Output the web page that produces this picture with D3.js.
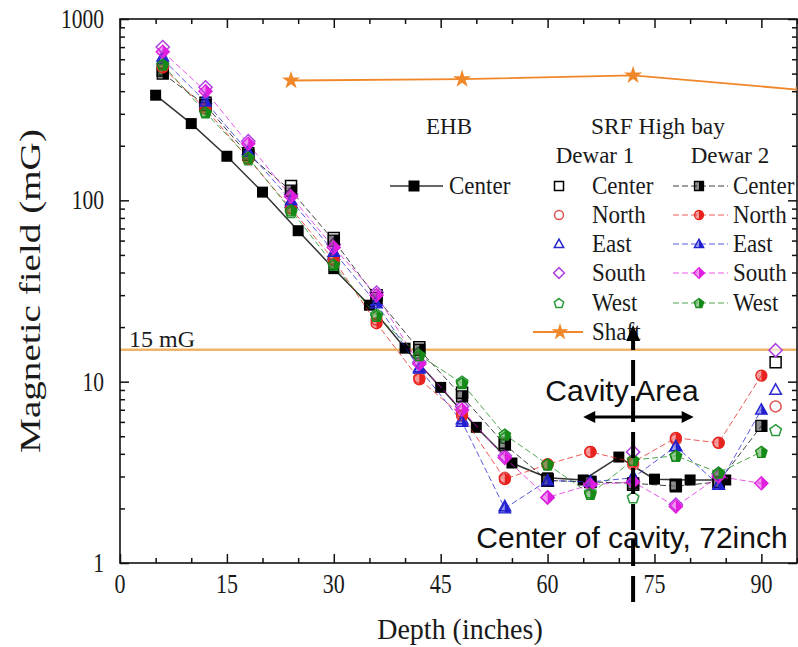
<!DOCTYPE html>
<html>
<head>
<meta charset="utf-8">
<script src="https://cdn.jsdelivr.net/npm/d3@7"></script>
<style>
  html, body { margin: 0; padding: 0; background: #fff; }
  svg { display: block; }
</style>
</head>
<body>
<div id="chart"></div>
<script>
// EHB center probe
const ehbDepth = [5, 10, 15, 20, 25, 30, 35, 40, 45, 50, 55, 60, 65, 70, 75, 80, 85];
const ehbCenter = [380, 265, 175, 111, 68, 42, 26.4, 15.3, 9.3, 5.6, 3.56, 2.95, 2.87, 3.84, 2.9, 2.87, 2.87];

// SRF High bay, Dewar 1 (hollow markers, no line)
const dewar1Depth = [6, 12, 18, 24, 30, 36, 42, 48, 54, 60, 66, 72, 78, 84, 92];
const d1Center = [520, 345, 182, 120, 62, 30, 15.5, 8.7, 4.6, 2.9, 2.8, 2.7, 2.7, 2.8, 12.8];
const d1North  = [560, 330, 175, 92, 48, 22, 10.5, 6.8, 2.95, 3.5, 4.1, 3.5, 4.8, 4.6, 7.3];
const d1East   = [620, 365, 190, 97, 50, 28, 12, 6.2, 2.05, 2.8, 2.8, 3.0, 4.4, 2.7, 9.0];
const d1South  = [700, 420, 212, 108, 57, 31, 12.8, 7.3, 3.9, 2.3, 2.75, 4.1, 2.1, 3.1, 14.9];
const d1West   = [530, 310, 168, 86, 45, 23.5, 14.5, 10, 4.9, 3.5, 2.45, 2.3, 3.9, 3.1, 5.4];

// SRF High bay, Dewar 2 (half filled markers, dashed line)
const dewar2Depth = [6, 12, 18, 24, 30, 36, 42, 48, 54, 60, 66, 72, 78, 84, 90];
const d2Center = [500, 335, 178, 113, 60, 29, 15, 8.3, 4.5, 2.85, 2.8, 2.75, 2.65, 2.8, 5.7];
const d2North  = [540, 320, 170, 90, 47, 21, 10.3, 6.5, 2.9, 3.5, 4.1, 3.6, 4.9, 4.6, 10.8];
const d2East   = [600, 350, 185, 100, 52, 27, 11.8, 6.0, 2.0, 2.85, 2.8, 2.95, 4.4, 2.7, 7.0];
const d2South  = [660, 400, 205, 105, 55, 30, 12.5, 7.0, 3.8, 2.3, 2.7, 2.8, 2.05, 3.0, 2.75];
const d2West   = [560, 305, 172, 88, 44, 23, 14, 9.8, 5.1, 3.5, 2.4, 3.7, 3.9, 3.15, 4.1];

// Shaft
const shaftDepth = [24, 48, 72, 96];
const shaftField = [458, 466, 489, 405];

const limitField = 15;
const xTicks = [0, 15, 30, 45, 60, 75, 90];
const yTicks = [1, 10, 100, 1000];

// cavity annotation (data units)
const cavityCenter = 72;
const cavityFrom = 65, cavityTo = 80.5;

const width = 798, height = 647;
const margin = { top: 19, right: 1, bottom: 84, left: 120 };
const serif = '"Liberation Serif", "Times New Roman", Times, serif';
const sans = '"Liberation Sans", Arial, Helvetica, sans-serif';

const svg = d3.select('#chart').append('svg')
  .attr('width', width)
  .attr('height', height)
  .attr('font-family', serif);

const x = d3.scaleLinear().domain([0, 95]).range([margin.left, width - margin.right]);
const y = d3.scaleLog().domain([1, 1000]).range([height - margin.bottom, margin.top]);

const colors = {
  Center: '#000000',
  North: '#e8231f',
  East: '#2020d0',
  South: '#e01ee0',
  West: '#168a16',
  Shaft: '#f0882a'
};
const hollowColors = {
  Center: '#000000',
  North: '#e05050',
  East: '#2a2ad0',
  South: '#b040e0',
  West: '#2a9a3a'
};

// serif text, optionally a bit taller than wide like the source image
function sText(parent, px, py, str, size, anchor, sy) {
  return parent.append('text')
    .attr('transform', `translate(${px},${py}) scale(1,${sy || 1})`)
    .attr('text-anchor', anchor || 'start')
    .attr('font-size', size)
    .attr('fill', '#1a1a1a')
    .text(str);
}

// marker shapes, r = half size
function shapePath(kind, r) {
  if (kind === 'square') return `M${-r},${-r}H${r}V${r}H${-r}Z`;
  if (kind === 'circle') return `M${r},0A${r},${r} 0 1,1 ${-r},0A${r},${r} 0 1,1 ${r},0Z`;
  if (kind === 'triangle') return `M0,${-r * 1.1}L${r * 1.05},${r * 0.8}L${-r * 1.05},${r * 0.8}Z`;
  if (kind === 'diamond') return `M0,${-r * 1.2}L${r * 1.2},0L0,${r * 1.2}L${-r * 1.2},0Z`;
  if (kind === 'pentagon') {
    const pts = d3.range(5).map(i => {
      const a = -Math.PI / 2 + i * 2 * Math.PI / 5;
      return [Math.cos(a) * r * 1.1, Math.sin(a) * r * 1.1 + 0.5];
    });
    return 'M' + pts.map(p => p.join(',')).join('L') + 'Z';
  }
  if (kind === 'star') return d3.symbol(d3.symbolStar, r * r * 1.6)();
  return '';
}

const shapes = { Center: 'square', North: 'circle', East: 'triangle', South: 'diamond', West: 'pentagon' };

const defs = svg.append('defs');
defs.append('clipPath')
  .attr('id', 'rightHalf')
  .attr('clipPathUnits', 'objectBoundingBox')
  .append('rect').attr('x', 0.5).attr('y', 0).attr('width', 0.5).attr('height', 1);

defs.append('clipPath')
  .attr('id', 'plotArea')
  .append('rect')
  .attr('x', x(0)).attr('y', y(1000))
  .attr('width', x(95) - x(0)).attr('height', y(1) - y(1000));

// 15 mG limit line
svg.append('line')
  .attr('x1', x(0)).attr('x2', x(95))
  .attr('y1', y(limitField)).attr('y2', y(limitField))
  .attr('stroke', '#f0b468')
  .attr('stroke-width', 2.5);

sText(svg, x(0) + 9, y(limitField) - 3, '15 mG', 24);

// axes
function minorLogTicks() {
  const t = [];
  [1, 10, 100].forEach(d => { for (let k = 2; k <= 9; k++) t.push(d * k); });
  return t;
}
const xMinor = d3.range(0, 96, 5).filter(v => v % 15 !== 0);

svg.append('g')
  .attr('transform', `translate(0,${y(1)})`)
  .call(d3.axisBottom(x).tickValues(xTicks).tickSizeInner(-9).tickSizeOuter(0).tickFormat(''));
svg.append('g')
  .attr('transform', `translate(0,${y(1)})`)
  .call(d3.axisBottom(x).tickValues(xMinor).tickSizeInner(-5).tickSizeOuter(0).tickFormat(''));
svg.append('g')
  .attr('transform', `translate(0,${y(1000)})`)
  .call(d3.axisTop(x).tickValues(xTicks).tickSizeInner(-9).tickSizeOuter(0).tickFormat(''));
svg.append('g')
  .attr('transform', `translate(0,${y(1000)})`)
  .call(d3.axisTop(x).tickValues(xMinor).tickSizeInner(-5).tickSizeOuter(0).tickFormat(''));

svg.append('g')
  .attr('transform', `translate(${x(0)},0)`)
  .call(d3.axisLeft(y).tickValues(yTicks).tickSizeInner(-9).tickSizeOuter(0).tickFormat(''));
svg.append('g')
  .attr('transform', `translate(${x(0)},0)`)
  .call(d3.axisLeft(y).tickValues(minorLogTicks()).tickSizeInner(-5).tickSizeOuter(0).tickFormat(''));
svg.append('g')
  .attr('transform', `translate(${x(95)},0)`)
  .call(d3.axisRight(y).tickValues(yTicks).tickSizeInner(-9).tickSizeOuter(0).tickFormat(''));
svg.append('g')
  .attr('transform', `translate(${x(95)},0)`)
  .call(d3.axisRight(y).tickValues(minorLogTicks()).tickSizeInner(-5).tickSizeOuter(0).tickFormat(''));

svg.selectAll('.domain').remove();
svg.selectAll('.tick text').remove();
svg.selectAll('.tick line').attr('stroke', '#111').attr('stroke-width', 1.5);

// tick labels
const labels = svg.append('g');
xTicks.forEach(v => sText(labels, x(v), y(1) + 30, d3.format('d')(v), 22, 'middle', 1.25));
yTicks.forEach(v => sText(labels, x(0) - 16, y(v) + 9, d3.format('d')(v), 21.5, 'end', 1.25));

svg.append('rect')
  .attr('x', x(0)).attr('y', y(1000))
  .attr('width', x(95) - x(0)).attr('height', y(1) - y(1000))
  .attr('fill', 'none')
  .attr('stroke', '#111')
  .attr('stroke-width', 1.6);

sText(svg, 460, 639, 'Depth (inches)', 28, 'middle', 1.05);

svg.append('text')
  .attr('transform', `translate(40,${(y(1) + y(1000)) / 2}) rotate(-90) scale(1.35,1)`)
  .attr('text-anchor', 'middle')
  .attr('font-size', 29)
  .attr('fill', '#1a1a1a')
  .text('Magnetic field (mG)');

// series
const data = svg.append('g').attr('clip-path', 'url(#plotArea)');
const line = d3.line().x(d => x(d[0])).y(d => y(d[1]));

// shaft
const shaftPts = d3.zip(shaftDepth, shaftField);
data.append('path')
  .attr('d', line(shaftPts))
  .attr('fill', 'none')
  .attr('stroke', colors.Shaft)
  .attr('stroke-width', 1.8);
data.selectAll('.shaft').data(shaftPts).enter().append('path')
  .attr('transform', d => `translate(${x(d[0])},${y(d[1])})`)
  .attr('d', shapePath('star', 8))
  .attr('fill', colors.Shaft);

// EHB
const ehbPts = d3.zip(ehbDepth, ehbCenter);
data.append('path')
  .attr('d', line(ehbPts))
  .attr('fill', 'none')
  .attr('stroke', '#333')
  .attr('stroke-width', 1.5);
data.selectAll('.ehb').data(ehbPts).enter().append('path')
  .attr('transform', d => `translate(${x(d[0])},${y(d[1])})`)
  .attr('d', shapePath('square', 5.5))
  .attr('fill', '#000');

const dewar2 = [
  ['Center', d2Center], ['North', d2North], ['East', d2East], ['South', d2South], ['West', d2West]
];
const dewar1 = [
  ['Center', d1Center], ['North', d1North], ['East', d1East], ['South', d1South], ['West', d1West]
];

function halfMarker(g, kind, color, r) {
  g.append('path').attr('d', shapePath(kind, r))
    .attr('fill', color).attr('fill-opacity', 0.45)
    .attr('stroke', color).attr('stroke-width', 1.3);
  g.append('path').attr('d', shapePath(kind, r))
    .attr('fill', color)
    .attr('clip-path', 'url(#rightHalf)');
}
function hollowMarker(g, kind, color, r) {
  g.append('path').attr('d', shapePath(kind, r))
    .attr('fill', '#fff').attr('fill-opacity', 0.6)
    .attr('stroke', color).attr('stroke-width', 1.5);
}

dewar2.forEach(([name, vals]) => {
  data.append('path')
    .attr('d', line(d3.zip(dewar2Depth, vals)))
    .attr('fill', 'none')
    .attr('stroke', colors[name])
    .attr('stroke-opacity', 0.75)
    .attr('stroke-width', 1)
    .attr('stroke-dasharray', '6,3');
});

dewar1.forEach(([name, vals]) => {
  d3.zip(dewar1Depth, vals).forEach(d => {
    const g = data.append('g').attr('transform', `translate(${x(d[0])},${y(d[1])})`);
    hollowMarker(g, shapes[name], hollowColors[name], 5.5);
  });
});

dewar2.forEach(([name, vals]) => {
  d3.zip(dewar2Depth, vals).forEach(d => {
    const g = data.append('g').attr('transform', `translate(${x(d[0])},${y(d[1])})`);
    halfMarker(g, shapes[name], colors[name], 5.5);
  });
});

// legend
const leg = svg.append('g');
const rowY = [186, 215, 244, 273, 303, 332];
const names = ['Center', 'North', 'East', 'South', 'West'];

sText(leg, 449, 134, 'EHB', 23, 'middle');
sText(leg, 658, 134, 'SRF High bay', 23.4, 'middle');
sText(leg, 595, 163, 'Dewar 1', 23, 'middle');
sText(leg, 730, 163, 'Dewar 2', 23, 'middle');

leg.append('line').attr('x1', 390).attr('x2', 443).attr('y1', rowY[0]).attr('y2', rowY[0])
  .attr('stroke', '#333').attr('stroke-width', 1.5);
leg.append('path').attr('transform', `translate(414,${rowY[0]})`)
  .attr('d', shapePath('square', 5.5)).attr('fill', '#000');
sText(leg, 449, rowY[0] + 8, 'Center', 23, 'start', 1.05);

names.forEach((name, i) => {
  const cy = rowY[i];
  const g1 = leg.append('g').attr('transform', `translate(559,${cy})`);
  hollowMarker(g1, shapes[name], hollowColors[name], 4.5);
  sText(leg, 592, cy + 8, name, 23, 'start', 1.05);

  leg.append('line').attr('x1', 673).attr('x2', 728).attr('y1', cy).attr('y2', cy)
    .attr('stroke', colors[name]).attr('stroke-opacity', 0.75)
    .attr('stroke-width', 1).attr('stroke-dasharray', '6,3');
  const g2 = leg.append('g').attr('transform', `translate(699,${cy})`);
  halfMarker(g2, shapes[name], colors[name], 4.5);
  sText(leg, 733, cy + 8, name, 23, 'start', 1.05);
});

leg.append('line').attr('x1', 533).attr('x2', 583).attr('y1', rowY[5]).attr('y2', rowY[5])
  .attr('stroke', colors.Shaft).attr('stroke-width', 1.8);
leg.append('path').attr('transform', `translate(560,${rowY[5]})`)
  .attr('d', shapePath('star', 7.5)).attr('fill', colors.Shaft);
sText(leg, 592, rowY[5] + 8, 'Shaft', 23, 'start', 1.05);

// cavity annotations
const ann = svg.append('g');
ann.append('text')
  .attr('x', 622)
  .attr('y', 401)
  .attr('text-anchor', 'middle')
  .attr('font-family', sans)
  .attr('font-size', 30)
  .attr('fill', '#111')
  .text('Cavity Area');

ann.append('text')
  .attr('x', 632)
  .attr('y', 548)
  .attr('text-anchor', 'middle')
  .attr('font-family', sans)
  .attr('font-size', 30)
  .attr('fill', '#111')
  .text('Center of cavity, 72inch');

const arrowY = 417;
ann.append('line')
  .attr('x1', x(cavityFrom) + 4).attr('x2', x(cavityTo) - 4)
  .attr('y1', arrowY).attr('y2', arrowY)
  .attr('stroke', '#000').attr('stroke-width', 3);
ann.append('path')
  .attr('d', `M${x(cavityFrom)},${arrowY}l12,-6v12Z M${x(cavityTo)},${arrowY}l-12,-6v12Z`)
  .attr('fill', '#000');

ann.append('line')
  .attr('x1', x(cavityCenter)).attr('x2', x(cavityCenter))
  .attr('y1', 602).attr('y2', 338)
  .attr('stroke', '#000').attr('stroke-width', 4)
  .attr('stroke-dasharray', '26,10');
ann.append('path')
  .attr('d', `M${x(cavityCenter)},325l-7,16h14Z`)
  .attr('fill', '#000');
</script>
</body>
</html>
